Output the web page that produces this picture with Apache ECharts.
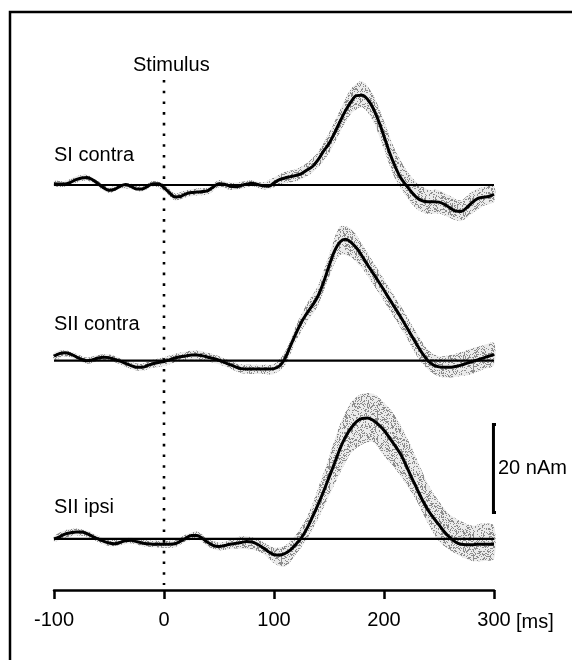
<!DOCTYPE html>
<html>
<head>
<meta charset="utf-8">
<script src="https://cdn.jsdelivr.net/npm/echarts@6/dist/echarts.min.js"></script>
<style>
  html, body { margin: 0; padding: 0; background: #fff; }
  #chart { width: 572px; height: 660px; }
</style>
</head>
<body>
<div id="chart"></div>
<script>
// Sample times (ms): mean traces every 5 ms, spread bands every 10 ms
const tMean = [];
for (let t = -100; t <= 300; t += 5) tMean.push(t);
const tBand = [];
for (let t = -100; t <= 300; t += 10) tBand.push(t);

const xTicks = [-100, 0, 100, 200, 300];

// Source waveforms (nAm)
const siContraMean = [
  0.3, 0.2, 0.2, 0.6, 1.2, 1.6, 1.7, 1.2, 0.3, -0.6,
  -1.2, -1.0, -0.3, 0.1, -0.3, -0.9, -0.9, -0.3, 0.3, 0.3,
  -0.6, -1.8, -2.7, -2.6, -2.0, -1.7, -1.6, -1.5, -1.3, -0.4,
  0.3, 0.2, -0.3, -0.4, -0.1, 0.2, 0.4, 0.1, -0.2, -0.3,
  0.5, 1.2, 1.6, 1.9, 2.2, 2.6, 3.4, 4.2, 5.7, 7.7,
  9.4, 11.8, 14.4, 16.9, 18.9, 20.3, 20.4, 19.5, 17.5, 14.6,
  11.1, 7.4, 4.3, 1.7, 0.0, -1.6, -2.9, -3.6, -3.8, -3.8,
  -3.9, -4.4, -5.2, -5.9, -6.0, -5.2, -4.0, -3.1, -2.8, -2.6,
  -2.1
];
const siContraUpper = [
  0.9, 0.9, 2.0, 2.3, 0.9, -0.5, 0.3, 0.3, -0.3, 0.9,
  0.2, -1.9, -1.2, -0.8, -0.5, 1.1, 0.5, 0.7, 1.1, 0.6,
  1.7, 3.0, 3.6, 5.0, 7.5, 11.8, 17.0, 21.8, 23.6, 20.5,
  14.5, 8.0, 3.5, 0.5, -1.0, -1.2, -2.5, -3.5, -1.5, -0.5,
  -0.3
];
const siContraLower = [
  -0.3, -0.4, 0.5, 1.0, -0.4, -1.8, -0.9, -0.9, -1.5, -0.3,
  -1.3, -3.5, -2.8, -2.4, -2.1, -0.5, -1.1, -0.9, -0.3, -1.0,
  -0.5, 0.4, 0.9, 2.0, 4.0, 7.2, 12.0, 16.2, 17.6, 14.6,
  8.0, 1.5, -2.5, -5.5, -6.6, -6.5, -7.5, -8.2, -6.5, -4.8,
  -3.8
];

const siiContraMean = [
  1.0, 1.6, 1.8, 1.5, 0.9, 0.3, 0.0, 0.2, 0.6, 0.8,
  0.7, 0.3, -0.1, -0.6, -1.1, -1.5, -1.5, -1.1, -0.7, -0.4,
  -0.2, 0.2, 0.6, 0.9, 1.1, 1.3, 1.3, 1.1, 0.8, 0.5,
  0.1, -0.4, -0.9, -1.4, -1.8, -1.9, -1.9, -1.9, -1.9, -1.9,
  -1.8, -1.2, 0.5, 3.4, 6.2, 8.8, 10.8, 12.6, 14.7, 17.8,
  21.5, 24.9, 27.0, 27.6, 26.9, 25.6, 23.8, 21.8, 19.9, 18.0,
  16.0, 14.0, 12.0, 10.0, 7.9, 5.7, 3.6, 1.6, 0.0, -1.0,
  -1.4, -1.5, -1.5, -1.3, -1.0, -0.6, -0.2, 0.2, 0.6, 1.0,
  1.4
];
const siiContraUpper = [
  1.8, 2.4, 1.6, 0.7, 1.3, 1.4, 0.6, -0.3, -0.7, 0.2,
  0.8, 1.6, 2.1, 2.3, 1.8, 1.0, 0.0, -0.8, -0.9, -0.9,
  -0.7, 2.0, 8.0, 13.0, 17.0, 24.0, 30.5, 30.0, 26.5, 22.5,
  18.5, 14.5, 10.5, 6.2, 2.5, 1.0, 1.3, 2.0, 2.8, 3.5,
  4.0
];
const siiContraLower = [
  0.2, 1.0, 0.2, -0.7, -0.1, 0.0, -0.8, -1.9, -2.3, -1.6,
  -1.2, -0.4, 0.1, 0.3, -0.2, -0.8, -1.8, -2.8, -3.0, -3.0,
  -3.0, -1.0, 4.5, 8.8, 12.5, 19.0, 24.0, 23.5, 21.0, 17.3,
  13.5, 9.5, 5.5, 1.0, -2.0, -3.6, -3.8, -3.5, -3.0, -2.0,
  -1.0
];

const siiIpsiMean = [
  0.0, 0.5, 1.1, 1.4, 1.6, 1.6, 1.2, 0.6, 0.0, -0.5,
  -0.9, -1.1, -0.8, -0.4, -0.3, -0.6, -0.9, -1.1, -1.2, -1.2,
  -1.2, -1.2, -1.1, -0.5, 0.2, 0.8, 0.8, 0.1, -0.8, -1.5,
  -1.7, -1.5, -1.2, -1.0, -0.8, -0.6, -0.7, -1.2, -2.0, -2.9,
  -3.6, -3.7, -3.3, -2.5, -1.2, 0.3, 2.4, 5.0, 7.8, 10.8,
  14.0, 17.2, 20.5, 23.2, 25.2, 26.7, 27.4, 27.5, 27.0, 26.0,
  24.7, 23.0, 21.2, 19.3, 16.8, 14.0, 11.4, 8.8, 6.6, 4.8,
  3.2, 1.6, 0.3, -0.7, -1.2, -1.3, -1.3, -1.2, -1.2, -1.2,
  -1.2
];
const siiIpsiUpper = [
  0.6, 2.0, 2.4, 1.9, 0.7, -0.2, 0.0, 0.3, -0.2, -0.4,
  -0.4, -0.3, 1.0, 1.7, 0.0, -0.8, -0.3, 0.6, 0.4, -0.7,
  -2.0, -1.5, 1.0, 5.0, 11.5, 18.5, 26.0, 31.0, 33.0, 33.0,
  31.0, 28.0, 23.5, 18.0, 12.5, 8.5, 5.5, 4.0, 3.0, 3.5,
  3.0
];
const siiIpsiLower = [
  -0.6, 0.3, 0.8, 0.5, -0.7, -1.6, -1.4, -1.0, -1.6, -1.9,
  -2.0, -1.9, -0.6, 0.0, -1.7, -2.6, -2.2, -2.2, -2.4, -3.3,
  -5.5, -6.3, -3.5, 0.0, 4.5, 9.7, 15.0, 19.5, 21.5, 22.0,
  19.0, 16.0, 12.5, 8.5, 3.5, -0.5, -2.5, -4.0, -5.0, -5.0,
  -4.5
];

// Calibration bar (nAm) drawn at the right end of the lowest trace
const scaleBarFrom = 6;
const scaleBarTo = 26;
const scaleBarTime = 299.5;
const scaleBarSerif = 304;

const panelNames = ['SI contra', 'SII contra', 'SII ipsi'];

const FONT = "'Liberation Sans', Arial, Helvetica, sans-serif";

function pairs(ts, vs) { return ts.map((t, i) => [t, vs[i]]); }

// Grey stipple texture used for the across-subject spread
function stipple() {
  const c = document.createElement('canvas');
  c.width = 48; c.height = 48;
  const ctx = c.getContext('2d');
  ctx.fillStyle = '#ebebeb';
  ctx.fillRect(0, 0, 48, 48);
  ctx.fillStyle = '#8c8c8c';
  for (let i = 0; i < 48; i++) {
    for (let j = 0; j < 48; j++) {
      const h = (Math.imul(i + 1, 73856093) ^ Math.imul(j + 7, 19349663)) >>> 0;
      if ((h >>> 5) % 100 < 30) ctx.fillRect(i, j, 1, 1);
    }
  }
  return c;
}
const stippleFill = { image: stipple(), repeat: 'repeat' };

const panels = [
  { mean: siContraMean, up: siContraUpper, lo: siContraLower },
  { mean: siiContraMean, up: siiContraUpper, lo: siiContraLower },
  { mean: siiIpsiMean, up: siiIpsiUpper, lo: siiIpsiLower }
];

const grids = [
  { left: 54, right: 78, top: 26.6, height: 211.2 },
  { left: 54, right: 78, top: 202.3, height: 211.2 },
  { left: 54, right: 78, top: 380.6, height: 209.4 },
  { left: 54, right: 78, top: 80, height: 505 }
];
const yRanges = [[-12, 36], [-12, 36], [-11.6, 36], [0, 1]];

const xAxes = grids.map((g, i) => ({
  gridIndex: i,
  type: 'value',
  min: xTicks[0],
  max: xTicks[xTicks.length - 1],
  interval: 100,
  show: i === 2,
  splitLine: { show: false },
  axisLine: { show: true, onZero: false, lineStyle: { color: '#000', width: 2.5 } },
  axisTick: { show: true, length: 9, lineStyle: { color: '#000', width: 2.5 } },
  axisLabel: { color: '#000', fontSize: 20, fontFamily: FONT, margin: 20 }
}));
const yAxes = yRanges.map((r, i) => ({
  gridIndex: i, type: 'value', min: r[0], max: r[1], show: false, splitLine: { show: false }
}));

const series = [];
panels.forEach((p, k) => {
  series.push({
    type: 'custom',
    xAxisIndex: k, yAxisIndex: k,
    z: 1,
    silent: true,
    data: [[0, 0]],
    renderItem: function (params, api) {
      const top = tBand.map((t, i) => api.coord([t, p.up[i]]));
      const bot = tBand.map((t, i) => api.coord([t, p.lo[i]])).reverse();
      return {
        type: 'polygon',
        shape: { points: top.concat(bot), smooth: 0.3 },
        style: { fill: stippleFill, stroke: null }
      };
    }
  });
  series.push({
    type: 'line',
    xAxisIndex: k, yAxisIndex: k,
    z: 2,
    silent: true,
    showSymbol: false,
    data: [[xTicks[0], 0], [xTicks[xTicks.length - 1], 0]],
    lineStyle: { color: '#000', width: 2.2 }
  });
  series.push({
    type: 'line',
    xAxisIndex: k, yAxisIndex: k,
    z: 3,
    silent: true,
    showSymbol: false,
    smooth: 0.35,
    data: pairs(tMean, p.mean),
    lineStyle: { color: '#000', width: 3 }
  });
});

// calibration bar "[" in the SII ipsi panel
series.push({
  type: 'line',
  xAxisIndex: 2, yAxisIndex: 2,
  z: 3,
  silent: true,
  clip: false,
  showSymbol: false,
  data: [[scaleBarSerif, scaleBarTo], [scaleBarTime, scaleBarTo], [scaleBarTime, scaleBarFrom], [scaleBarSerif, scaleBarFrom]],
  lineStyle: { color: '#000', width: 3, cap: 'butt', join: 'miter' }
});

// stimulus onset marker at t = 0
series.push({
  type: 'line',
  xAxisIndex: 3, yAxisIndex: 3,
  z: 4,
  silent: true,
  showSymbol: false,
  data: [[0, 1], [0, 0]],
  lineStyle: { color: '#000', width: 2.6, type: [2.6, 8.1], cap: 'butt' }
});

const textStyle = { fill: '#000', fontSize: 20, fontFamily: FONT, verticalAlign: 'middle', align: 'left' };
const graphic = [
  { type: 'rect', shape: { x: 10, y: 12, width: 700, height: 800 }, style: { fill: null, stroke: '#000', lineWidth: 2.5 }, z: 10 },
  { type: 'text', left: 133, top: 55, style: Object.assign({ text: 'Stimulus' }, textStyle, { verticalAlign: 'top' }) },
  { type: 'text', x: 54, y: 155, style: Object.assign({ text: panelNames[0] }, textStyle) },
  { type: 'text', x: 54, y: 324, style: Object.assign({ text: panelNames[1] }, textStyle) },
  { type: 'text', x: 54, y: 507, style: Object.assign({ text: panelNames[2] }, textStyle) },
  { type: 'text', x: 498, y: 468, style: Object.assign({ text: '20 nAm' }, textStyle) },
  { type: 'text', x: 516, y: 622, style: Object.assign({ text: '[ms]' }, textStyle) }
];

const chart = echarts.init(document.getElementById('chart'), null, { renderer: 'canvas' });
chart.setOption({
  backgroundColor: '#fff',
  animation: false,
  grid: grids,
  xAxis: xAxes,
  yAxis: yAxes,
  series: series,
  graphic: graphic
});
</script>
</body>
</html>
